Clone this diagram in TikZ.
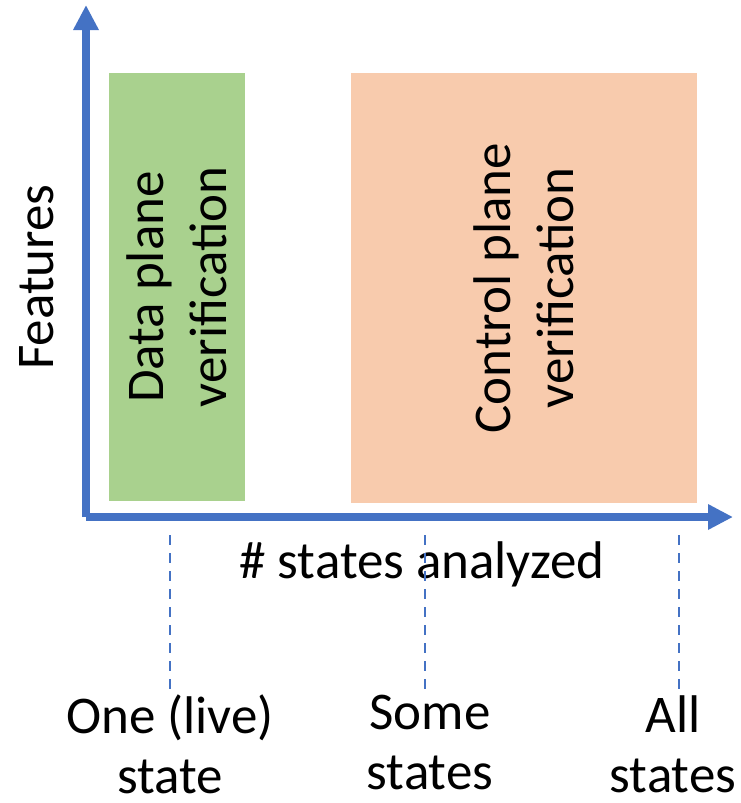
\documentclass[tikz,border=0pt]{standalone}
\usepackage{fontspec}
\setmainfont{Carlito}
\usepackage{tikz}
\usetikzlibrary{arrows.meta,positioning}

\definecolor{axisblue}{HTML}{4472C4}
\definecolor{dpgreen}{HTML}{A9D18E}
\definecolor{cporange}{HTML}{F8CBAD}

\begin{document}
\begin{tikzpicture}[x=1pt, y=-1pt,
		font=\fontsize{53}{63}\selectfont,
		axis/.style={draw=axisblue, line width=8pt, -{Triangle[length=25pt, width=24pt]}},
		region/.style={rotate=90, inner sep=0pt, align=center},
		guide/.style={draw=axisblue, line width=2.2pt, dash pattern=on 10pt off 8pt},
		ticklabel/.style={anchor=north, align=center, inner sep=0pt,
			font=\fontsize{53}{60}\selectfont}]
		\useasboundingbox (0,0) rectangle (741,803);

		% Nodes
		\coordinate (o) at (86,517);
		\coordinate (ytop) at (86,5);
		\coordinate (xend) at (733,517);
		\node[region, fill=dpgreen, minimum width=428pt, minimum height=136pt] (dp) at (177,287) {Data plane\\verification};
		\node[region, fill=cporange, minimum width=430pt, minimum height=346pt] (cp) at (524,288) {Control plane\\verification};
		\node[rotate=90] (ylab) at (37,277) {Features};
		\node (xlab) at (422,564) {\# states analyzed};

		\coordinate (g1) at (170,535);
		\coordinate (g2) at (425,535);
		\coordinate (g3) at (679,535);
		\node[ticklabel] (one) at (170,695) {One (live)\\state};
		\node[ticklabel] (some) at (430,695) {Some\\states};
		\node[ticklabel] (all) at (673,695) {All\\states};

		% Edges
		\draw[axis] (o) -- (ytop);
		\draw[axis] (o) -- (xend);
		\draw[guide] (g1) -- (one.north -| g1);
		\draw[guide] (g2) -- (some.north -| g2);
		\draw[guide] (g3) -- (all.north -| g3);
	\end{tikzpicture}
\end{document}
